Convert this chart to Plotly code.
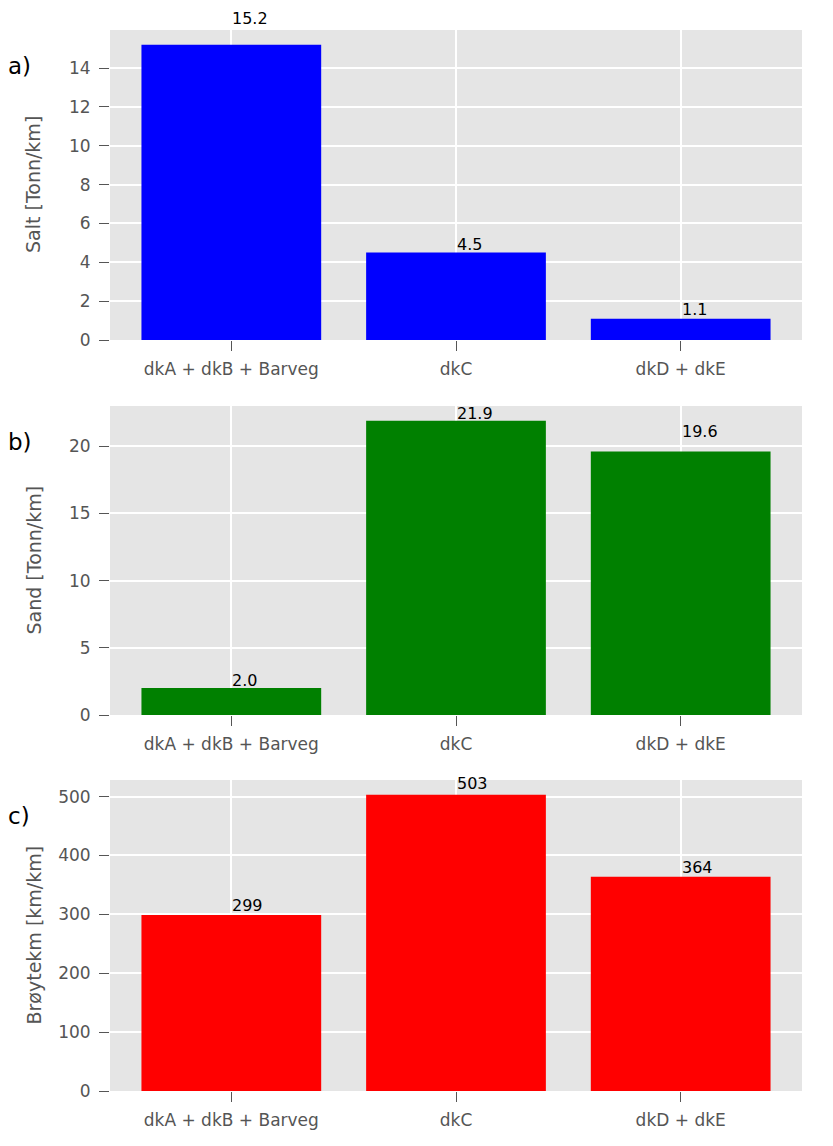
import plotly.graph_objects as go

categories = ["dkA + dkB + Barveg", "dkC", "dkD + dkE"]
salt = [15.2, 4.5, 1.1]
sand = [2.0, 21.9, 19.6]
broyt = [299, 503, 364]
salt_labels = ["15.2", "4.5", "1.1"]
sand_labels = ["2.0", "21.9", "19.6"]
broyt_labels = ["299", "503", "364"]
y_titles = ["Salt [Tonn/km]", "Sand [Tonn/km]", "Brøytekm [km/km]"]
panel_tags = ["a)", "b)", "c)"]
colors = ["#0000FF", "#008000", "#FF0000"]
# pixel lift of each value label's baseline above its bar top (style)
label_lift = [[19.5, 1.3, 2.4], [1.3, 1.0, 13.4], [3.0, 4.5, 3.0]]

series = [salt, sand, broyt]
labels = [salt_labels, sand_labels, broyt_labels]
dticks = [2, 5, 100]

FONT = "DejaVu Sans"
GRAY = "#555555"

OFF = 8  # page body margin
W, H = 833 - OFF, 1146 - OFF
ml, mr, mt, mb = 110 - OFF, 31, 30 - OFF, 55
pw = W - ml - mr
ph = H - mt - mb
panels_px = [(30, 340), (406, 715), (780, 1091)]
domains = [[(1146 - mb - b) / ph, (1146 - mb - t) / ph] for t, b in panels_px]

fig = go.Figure()
annotations = []
for i in range(3):
    ax = "" if i == 0 else str(i + 1)
    fig.add_trace(go.Bar(
        x=categories, y=series[i], width=0.8,
        marker=dict(color=colors[i], line=dict(width=0)),
        xaxis="x" + ax, yaxis="y" + ax, showlegend=False,
    ))
    ymax = max(series[i]) * 1.05
    fig.update_layout(**{
        "xaxis" + ax: dict(
            domain=[0, 1], anchor="y" + ax, type="category",
            range=[-0.54, 2.54], showgrid=True, gridcolor="white", gridwidth=1.6,
            ticks="outside", ticklen=10, tickwidth=1.4, tickcolor=GRAY,
            ticklabelstandoff=4,
            tickfont=dict(family=FONT, size=17, color=GRAY),
            showline=False, zeroline=False,
        ),
        "yaxis" + ax: dict(
            domain=domains[i], anchor="x" + ax,
            range=[0, ymax], dtick=dticks[i], tick0=0,
            showgrid=True, gridcolor="white", gridwidth=1.6,
            ticks="outside", ticklen=10, tickwidth=1.4, tickcolor=GRAY,
            ticklabelstandoff=5,
            tickfont=dict(family=FONT, size=17, color=GRAY),
            showline=False, zeroline=False,
        ),
    })
    for j in range(3):
        annotations.append(dict(
            x=categories[j], y=series[i][j], xref="x" + ax, yref="y" + ax,
            text=labels[i][j], showarrow=False, xanchor="left", yanchor="bottom",
            xshift=-1, yshift=label_lift[i][j] - 5,
            font=dict(family=FONT, size=16, color="black"),
        ))
    annotations.append(dict(
        x=(33 - 110) / pw, y=0.5, xref="paper", yref="y" + ax + " domain",
        text=y_titles[i], textangle=-90, showarrow=False,
        xanchor="center", yanchor="middle",
        font=dict(family=FONT, size=19, color=GRAY),
    ))
    annotations.append(dict(
        x=(6 - 110) / pw, y=0.885, xref="paper", yref="y" + ax + " domain",
        text=panel_tags[i], showarrow=False, xanchor="left", yanchor="middle",
        font=dict(family=FONT, size=23, color="black"),
    ))

fig.update_layout(
    width=W, height=H,
    margin=dict(l=ml, r=mr, t=mt, b=mb),
    paper_bgcolor="white", plot_bgcolor="#E5E5E5",
    bargap=0.2, annotations=annotations,
    font=dict(family=FONT),
)
fig.write_html("out.html")
